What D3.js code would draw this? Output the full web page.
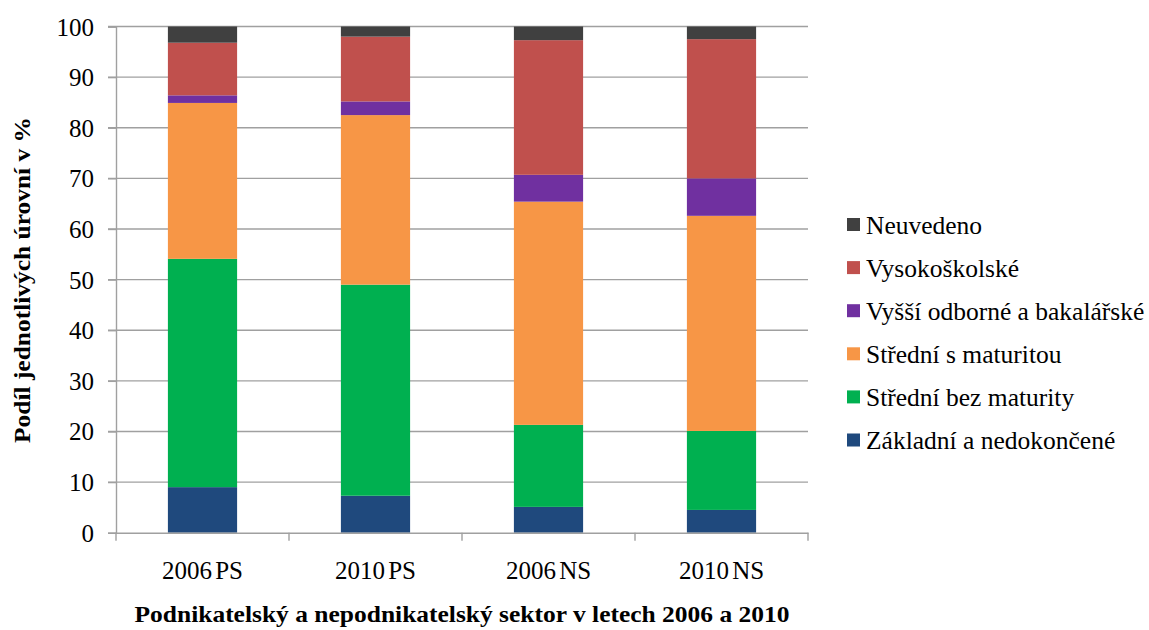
<!DOCTYPE html>
<html>
<head>
<meta charset="utf-8">
<script src="https://cdn.jsdelivr.net/npm/d3@7"></script>
<style>
  html, body { margin: 0; padding: 0; background: #fff; }
  svg text { font-family: "Liberation Serif", "Times New Roman", "DejaVu Serif", serif !important; }
</style>
</head>
<body>
<svg id="chart" width="1149" height="630"></svg>
<script>
const categories = ["2006 PS", "2010 PS", "2006 NS", "2010 NS"];
const seriesNames = ["Základní a nedokončené", "Střední bez maturity", "Střední s maturitou", "Vyšší odborné a bakalářské", "Vysokoškolské", "Neuvedeno"];
const zakladni   = [9.0, 7.3, 5.1, 4.5];
const stredniBez = [45.1, 41.7, 16.2, 15.6];
const stredniS   = [30.8, 33.5, 44.1, 42.5];
const vyssi      = [1.5, 2.7, 5.3, 7.4];
const vysoko     = [10.4, 12.8, 26.6, 27.5];
const neuvedeno  = [3.2, 2.0, 2.7, 2.5];
const seriesColors = ["#1F497D", "#00B050", "#F79646", "#7030A0", "#C0504D", "#404040"];
const yTicks = [0, 10, 20, 30, 40, 50, 60, 70, 80, 90, 100];
const yTitle = "Podíl jednotlivých úrovní v %";
const xTitle = "Podnikatelský a nepodnikatelský sektor v letech 2006 a 2010";

const seriesValues = [zakladni, stredniBez, stredniS, vyssi, vysoko, neuvedeno];
const rows = categories.map((c, i) => {
  const r = { cat: c };
  seriesNames.forEach((s, j) => r[s] = seriesValues[j][i]);
  return r;
});

const svg = d3.select("#chart");
const pLeft = 116, pRight = 808, pTop = 26.5, pBottom = 532.7;

const x = d3.scaleBand().domain(categories).range([pLeft, pRight]).paddingInner(0.6).paddingOuter(0.3);
const y = d3.scaleLinear().domain([0, 100]).range([pBottom, pTop]);

// gridlines
svg.append("g").selectAll("line").data(yTicks.filter(d => d > 0)).join("line")
  .attr("x1", pLeft - 8).attr("x2", pRight)
  .attr("y1", d => y(d)).attr("y2", d => y(d))
  .attr("stroke", "#a0a0a0").attr("stroke-width", 1.4);

// stacked bars
const stack = d3.stack().keys(seriesNames)(rows);
svg.append("g").selectAll("g").data(stack).join("g")
  .attr("fill", (d, i) => seriesColors[i])
  .selectAll("rect").data(d => d).join("rect")
  .attr("x", d => x(d.data.cat))
  .attr("width", x.bandwidth())
  .attr("y", d => y(d[1]))
  .attr("height", d => y(d[0]) - y(d[1]));

// y axis
const yAxis = d3.axisLeft(y).tickValues(yTicks).tickSize(8).tickPadding(14);
const gy = svg.append("g").attr("transform", `translate(${pLeft},0)`).call(yAxis);
gy.select(".domain").attr("stroke", "#a0a0a0").attr("stroke-width", 1.4);
gy.selectAll(".tick line").attr("stroke", "#a0a0a0").attr("stroke-width", 1.4);
gy.selectAll(".tick text").attr("font-size", 25).attr("fill", "#000")
  .attr("dy", "0.34em");

// x axis
const xAxis = d3.axisBottom(x).tickSize(0).tickPadding(29);
const gx = svg.append("g").attr("transform", `translate(0,${pBottom})`).call(xAxis);
gx.select(".domain").attr("stroke", "#a0a0a0").attr("stroke-width", 1.4);
gx.selectAll(".tick text").attr("font-size", 25).attr("fill", "#000").attr("word-spacing", -3);
// category separator ticks
const sepPos = [pLeft, ...categories.map(c => x(c) - x.step() * x.paddingInner() / 2).slice(1), pRight];
svg.append("g").selectAll("line").data(sepPos).join("line")
  .attr("x1", d => d).attr("x2", d => d)
  .attr("y1", pBottom).attr("y2", pBottom + 8)
  .attr("stroke", "#a0a0a0").attr("stroke-width", 1.4);

// axis titles
svg.append("text")
  .attr("x", (pLeft + pRight) / 2).attr("y", 622)
  .attr("text-anchor", "middle").attr("font-size", 24).attr("font-weight", "bold")
  .attr("textLength", 655).attr("lengthAdjust", "spacingAndGlyphs")
  .text(xTitle);

svg.append("text")
  .attr("transform", "translate(30,280) rotate(-90)")
  .attr("text-anchor", "middle").attr("font-size", 24).attr("font-weight", "bold")
  .attr("textLength", 326).attr("lengthAdjust", "spacingAndGlyphs")
  .text(yTitle);

// legend (top-down order: reverse of stack)
const legendItems = seriesNames.map((s, i) => ({ name: s, color: seriesColors[i] })).reverse();
const lg = svg.append("g").attr("transform", "translate(847,225)");
const li = lg.selectAll("g").data(legendItems).join("g")
  .attr("transform", (d, i) => `translate(0,${i * 43.1})`);
li.append("rect").attr("x", 0).attr("y", -7).attr("width", 13).attr("height", 13)
  .attr("fill", d => d.color);
li.append("text").attr("x", 19).attr("y", 0).attr("dy", "0.35em")
  .attr("font-size", 25.5).attr("fill", "#000").text(d => d.name);
</script>
</body>
</html>
